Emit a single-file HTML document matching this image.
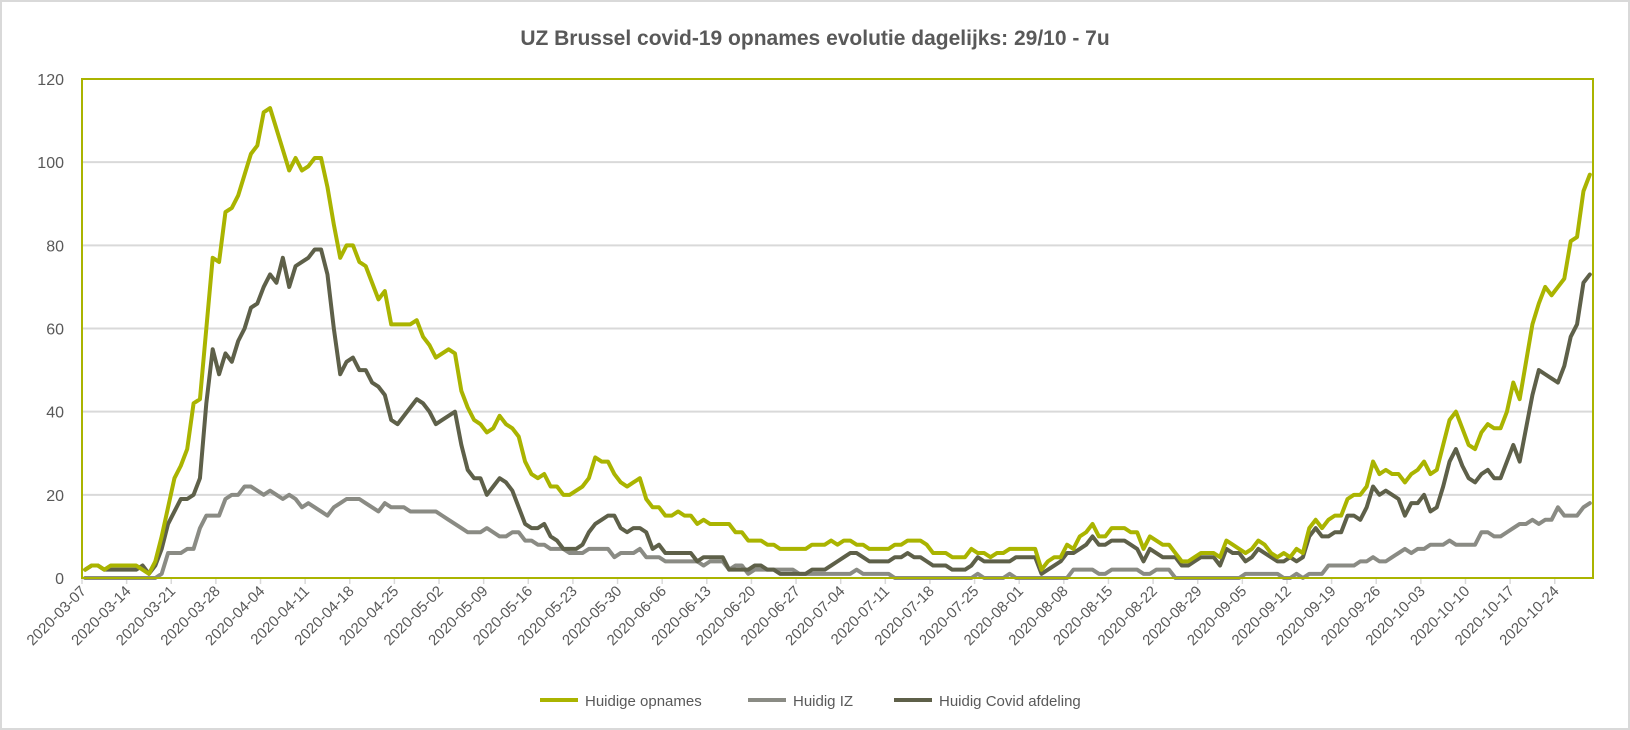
<!DOCTYPE html>
<html><head><meta charset="utf-8"><style>
html,body{margin:0;padding:0;background:#fff;}
svg{display:block;font-family:"Liberation Sans",sans-serif;}
</style></head><body>
<svg id="chart" width="1630" height="730" viewBox="0 0 1630 730" xmlns="http://www.w3.org/2000/svg">
<rect x="1" y="1" width="1628" height="728" fill="#fff" stroke="#d9d9d9" stroke-width="2"/>
<text x="815" y="45" text-anchor="middle" font-size="21" font-weight="bold" fill="#595959">UZ Brussel covid-19 opnames evolutie dagelijks: 29/10 - 7u</text>
<g id="grid"></g>
<g id="yaxis"></g>
<g id="xaxis"></g>
<g id="series"></g>
<rect x="82" y="79" width="1511" height="499" fill="none" stroke="#aab400" stroke-width="2"/>
<g>
<g><line x1="540" y1="700" x2="578" y2="700" stroke="#aab400" stroke-width="4"/><text x="585" y="706" font-size="15" fill="#595959">Huidige opnames</text></g>
<g><line x1="748" y1="700" x2="786" y2="700" stroke="#8a8b84" stroke-width="4"/><text x="793" y="706" font-size="15" fill="#595959">Huidig IZ</text></g>
<g><line x1="894" y1="700" x2="932" y2="700" stroke="#5e6049" stroke-width="4"/><text x="939" y="706" font-size="15" fill="#595959">Huidig Covid afdeling</text></g>
</g>
</svg>
<script>
const startDate = "2020-03-07";
const tickLabels = ["2020-03-07","2020-03-14","2020-03-21","2020-03-28","2020-04-04","2020-04-11","2020-04-18","2020-04-25","2020-05-02","2020-05-09","2020-05-16","2020-05-23","2020-05-30","2020-06-06","2020-06-13","2020-06-20","2020-06-27","2020-07-04","2020-07-11","2020-07-18","2020-07-25","2020-08-01","2020-08-08","2020-08-15","2020-08-22","2020-08-29","2020-09-05","2020-09-12","2020-09-19","2020-09-26","2020-10-03","2020-10-10","2020-10-17","2020-10-24"];
const yTicks = [0,20,40,60,80,100,120];
const opnames = [2,3,3,2,3,3,3,3,3,2,1,4,10,17,24,27,31,42,43,60,77,76,88,89,92,97,102,104,112,113,108,103,98,101,98,99,101,101,94,85,77,80,80,76,75,71,67,69,61,61,61,61,62,58,56,53,54,55,54,45,41,38,37,35,36,39,37,36,34,28,25,24,25,22,22,20,20,21,22,24,29,28,28,25,23,22,23,24,19,17,17,15,15,16,15,15,13,14,13,13,13,13,11,11,9,9,9,8,8,7,7,7,7,7,8,8,8,9,8,9,9,8,8,7,7,7,7,8,8,9,9,9,8,6,6,6,5,5,5,7,6,6,5,6,6,7,7,7,7,7,2,4,5,5,8,7,10,11,13,10,10,12,12,12,11,11,7,10,9,8,8,6,4,4,5,6,6,6,5,9,8,7,6,7,9,8,6,5,6,5,7,6,12,14,12,14,15,15,19,20,20,22,28,25,26,25,25,23,25,26,28,25,26,32,38,40,36,32,31,35,37,36,36,40,47,43,52,61,66,70,68,70,72,81,82,93,97];
const iz = [0,0,0,0,0,0,0,0,0,0,0,0,1,6,6,6,7,7,12,15,15,15,19,20,20,22,22,21,20,21,20,19,20,19,17,18,17,16,15,17,18,19,19,19,18,17,16,18,17,17,17,16,16,16,16,16,15,14,13,12,11,11,11,12,11,10,10,11,11,9,9,8,8,7,7,7,6,6,6,7,7,7,7,5,6,6,6,7,5,5,5,4,4,4,4,4,4,3,4,4,4,2,3,3,1,2,2,2,2,2,2,2,1,1,1,1,1,1,1,1,1,2,1,1,1,1,1,0,0,0,0,0,0,0,0,0,0,0,0,0,1,0,0,0,0,1,0,0,0,0,0,0,0,0,0,2,2,2,2,1,1,2,2,2,2,2,1,1,2,2,2,0,0,0,0,0,0,0,0,0,0,0,1,1,1,1,1,1,0,0,1,0,1,1,1,3,3,3,3,3,4,4,5,4,4,5,6,7,6,7,7,8,8,8,9,8,8,8,8,11,11,10,10,11,12,13,13,14,13,14,14,17,15,15,15,17,18];
const afdeling = [2,3,3,2,2,2,2,2,2,3,1,3,7,13,16,19,19,20,24,42,55,49,54,52,57,60,65,66,70,73,71,77,70,75,76,77,79,79,73,60,49,52,53,50,50,47,46,44,38,37,39,41,43,42,40,37,38,39,40,32,26,24,24,20,22,24,23,21,17,13,12,12,13,10,9,7,7,7,8,11,13,14,15,15,12,11,12,12,11,7,8,6,6,6,6,6,4,5,5,5,5,2,2,2,2,3,3,2,2,1,1,1,1,1,2,2,2,3,4,5,6,6,5,4,4,4,4,5,5,6,5,5,4,3,3,3,2,2,2,3,5,4,4,4,4,4,5,5,5,5,1,2,3,4,6,6,7,8,10,8,8,9,9,9,8,7,4,7,6,5,5,5,3,3,4,5,5,5,3,7,6,6,4,5,7,6,5,4,4,5,4,5,10,12,10,10,11,11,15,15,14,17,22,20,21,20,19,15,18,18,20,16,17,22,28,31,27,24,23,25,26,24,24,28,32,28,36,44,50,49,48,47,51,58,61,71,73];

const NS = "http://www.w3.org/2000/svg";
const L = 82, R = 1593, T = 79, B = 578, YMAX = 120;
const N = opnames.length;
const bw = (R - L) / N;
const xScale = i => L + (i + 0.5) * bw;
const xTick = i => L + i * bw;
const yScale = v => B - (v / YMAX) * (B - T);
function mk(tag, attrs, parent){ const e = document.createElementNS(NS, tag); for (const k in attrs) e.setAttribute(k, attrs[k]); parent.appendChild(e); return e; }

const grid = document.getElementById('grid');
const yaxis = document.getElementById('yaxis');
yTicks.forEach(v => {
  const y = yScale(v);
  if (v > 0 && v < YMAX) {
    const g = mk('line', {x1: L, x2: R, y1: y, y2: y, stroke: '#d9d9d9', 'stroke-width': 2}, grid);
    
    
  }
  const t = mk('text', {x: 64, y: y + 6, 'text-anchor': 'end', 'font-size': 16, fill: '#595959'}, yaxis);
  t.textContent = v;
  
  
});
const base = mk('line', {x1: L, x2: R, y1: B, y2: B, stroke: '#d9d9d9', 'stroke-width': 2}, grid);



const xaxis = document.getElementById('xaxis');
tickLabels.forEach((lab, k) => {
  const x = xTick(k * 7);
  const tk = mk('line', {x1: x, x2: x, y1: B, y2: B + 6, stroke: '#d9d9d9', 'stroke-width': 1.5}, xaxis);
  
  
  const t = mk('text', {x: x + 5, y: B + 14, 'text-anchor': 'end', 'font-size': 15, fill: '#595959', transform: 'rotate(-45 ' + (x + 5) + ' ' + (B + 14) + ')'}, xaxis);
  t.textContent = lab;
  
  
});

const seriesG = document.getElementById('series');
function drawLine(arr, color, name){
  const d = arr.map((v, i) => (i ? 'L' : 'M') + xScale(i).toFixed(2) + ' ' + yScale(v).toFixed(2)).join(' ');
  const p = mk('path', {d: d, fill: 'none', stroke: color, 'stroke-width': 4, 'stroke-linejoin': 'round', 'stroke-linecap': 'round'}, seriesG);
  
  
}
drawLine(iz, '#8a8b84', 'line-huidig-iz');
drawLine(afdeling, '#5e6049', 'line-huidig-covid-afdeling');
drawLine(opnames, '#aab400', 'line-huidige-opnames');
</script>
</body></html>
